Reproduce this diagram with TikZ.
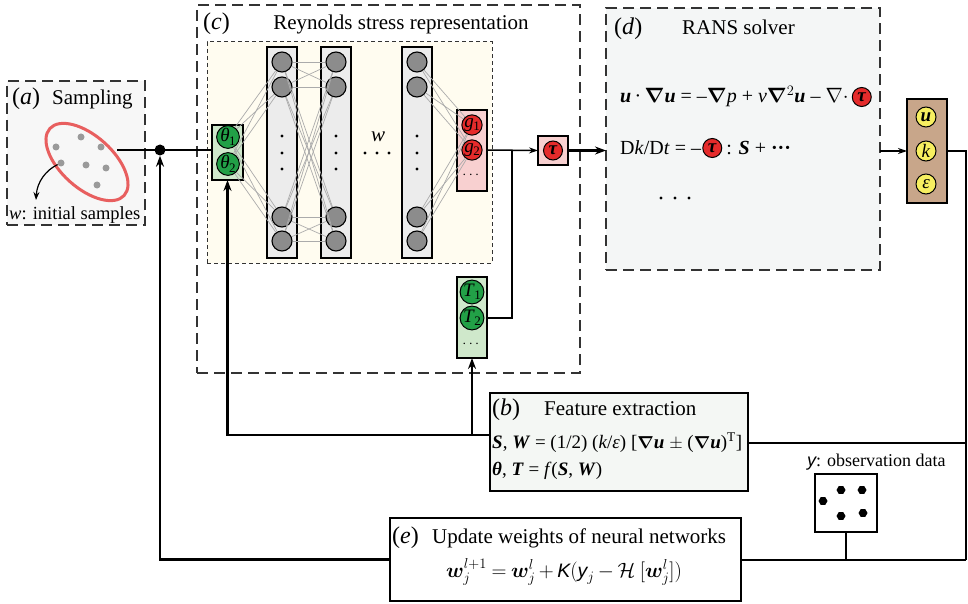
\documentclass[tikz,border=0pt]{standalone}
\usepackage{amsmath}
\usepackage{bm}
\usepackage{fontspec}
\setmainfont{Liberation Serif}
\newfontfamily\sansfam{Liberation Sans}
\newcommand{\vecu}{\textbf{\textit{u}}}
\newcommand{\bnab}{$\bm{\nabla}$}
\newcommand{\csub}[2]{\textit{#1}\kern-0.5pt\raisebox{-3.5pt}{\fontsize{13}{13}\selectfont #2}}
\usetikzlibrary{shapes.geometric,arrows.meta}
\definecolor{nngray}{HTML}{8C8C8C}
\definecolor{colgray}{HTML}{ECECEC}
\definecolor{cream}{HTML}{FFFCF0}
\definecolor{ngreen}{HTML}{22A047}
\definecolor{lgreen}{HTML}{CFE8CB}
\definecolor{nred}{HTML}{E52B2B}
\definecolor{lpink}{HTML}{F8D0D0}
\definecolor{boxtan}{HTML}{C8A68A}
\definecolor{nyellow}{HTML}{F7EF60}
\definecolor{ellred}{HTML}{E85F5F}
\definecolor{dotgray}{HTML}{9A9A9A}
\definecolor{boxa}{HTML}{F7F7F7}
\definecolor{boxd}{HTML}{F4F6F6}
\definecolor{boxb}{HTML}{F4F7F4}
\definecolor{wiregray}{HTML}{ABABAB}
\begin{document}
\begin{tikzpicture}[x=1pt,y=-1pt,
  thk/.style={line width=2.4pt},
  thn/.style={line width=1.5pt},
  tipb/.style={-{Stealth[length=11pt,width=8pt]}},
  tips/.style={-{Stealth[length=9pt,width=6pt]}},
  rbox/.style={rectangle, inner sep=0pt, outer sep=0pt},
  dbox/.style={rbox, draw=black!80, line width=1.6pt, dash pattern=on 11pt off 6pt},
  sbox/.style={rbox, draw=black, line width=1.3pt},
  colbox/.style={rbox, draw=black, line width=1.2pt, fill=colgray, minimum width=30pt, minimum height=211pt},
  nn/.style={circle, draw=black, line width=1.1pt, fill=nngray, minimum size=20pt, inner sep=0pt},
  cc/.style={circle, draw=black, line width=1pt, minimum size=19pt, inner sep=0pt, font=\fontsize{19}{19}\selectfont},
  gc/.style={cc, fill=ngreen},
  rc/.style={cc, fill=nred},
  yc/.style={cc, fill=nyellow, minimum size=20pt},
  wire/.style={draw=wiregray, line width=0.7pt},
  sdot/.style={circle, fill=dotgray, minimum size=7pt, inner sep=0pt},
  odot/.style={regular polygon, regular polygon sides=6, fill=black, minimum size=9pt, inner sep=0pt},
  ndot/.style={circle, fill=black, minimum size=3.2pt, inner sep=0pt},
  lbl/.style={inner sep=0pt, font=\fontsize{21}{25}\selectfont},
  plab/.style={inner sep=0pt, font=\fontsize{24}{28}\selectfont},
  eqf/.style={inner sep=0pt, font=\fontsize{19}{23}\selectfont},
  eqd/.style={inner sep=0pt, font=\fontsize{20}{24}\selectfont},
  eqe/.style={inner sep=0pt, font={\fontsize{19.5}{24}\selectfont\medmuskip=3mu\thickmuskip=4mu}},
  sml/.style={inner sep=0pt, font=\fontsize{18.5}{22}\selectfont}
]
\useasboundingbox (0,0) rectangle (968,604);

% ---------------- (a) Sampling
\node[dbox, fill=boxa, minimum width=138pt, minimum height=144pt] (abox) at (76,153) {};
\node[plab, anchor=base west] (la) at (12,105) {(\textit{a})};
\node[lbl, anchor=base west] (lsamp) at (52,105) {Sampling};
\node[ellipse, draw=ellred, line width=3pt, rotate=-42, minimum width=100pt, minimum height=52pt, inner sep=0pt] (ell) at (87,162) {};
\node[sdot] (p1) at (81,137) {};
\node[sdot] (p2) at (56,147) {};
\node[sdot] (p3) at (101,147) {};
\node[sdot] (p4) at (61,163) {};
\node[sdot] (p5) at (86,165) {};
\node[sdot] (p6) at (106,168) {};
\node[sdot] (p7) at (97,185) {};
\coordinate (wt) at (36,200);
\draw[line width=1.2pt, -{Stealth[length=8pt,width=6pt]}] (p4) .. controls (46,170) and (37,182) .. (wt);
\node[sml, anchor=base west] (winit) at (9,219) {\textit{w}: initial samples};

% ---------------- (c) Reynolds stress representation
\node[dbox, minimum width=383pt, minimum height=368pt] (cbox) at (388.5,189) {};
\node[plab, anchor=base west] (lc) at (203,30) {(\textit{c})};
\node[lbl, anchor=base] (lrey) at (401,30) {Reynolds stress representation};
\node[rbox, draw=black!80, line width=1pt, dash pattern=on 4pt off 3pt, fill=cream, minimum width=285pt, minimum height=221pt] (inner) at (349.5,152.5) {};

\node[sbox, fill=lgreen, minimum width=31pt, minimum height=55pt] (thbox) at (227.5,152.5) {};
\node[gc] (th1) at (228,137) {\csub{θ}{1}};
\node[gc] (th2) at (228,164) {\csub{θ}{2}};

\node[colbox] (col1) at (282,152.5) {};
\node[colbox] (col2) at (336,152.5) {};
\node[colbox] (col3) at (417,152.5) {};
\foreach \c/\x in {1/282,2/336,3/417}{
  \foreach \i/\y in {a/62,b/87,c/217,d/241}{
    \node[nn] (c\c\i) at (\x,\y) {};
  }
  \foreach \y [count=\k] in {136,153,169}{
    \node[ndot] (cd\c\k) at (\x,\y) {};
  }
}
\node[lbl, anchor=base] (wlab) at (378,142) {\textit{w}};
\node[ndot] (hd1) at (365,153) {};
\node[ndot] (hd2) at (377,153) {};
\node[ndot] (hd3) at (389,153) {};

\node[sbox, fill=lpink, minimum width=30pt, minimum height=81pt] (gbox) at (472,150.5) {};
\node[rc] (g1) at (472,125) {\csub{g}{1}};
\node[rc] (g2) at (472,150) {\csub{g}{2}};
\node[inner sep=0pt, font=\fontsize{15}{15}\selectfont] (gdots) at (472,175) {$\cdots$};

% wires
\foreach \a in {th1,th2}{
  \foreach \b in {a,b,c,d}{ \draw[wire] (\a) -- (c1\b); }
}
\foreach \a in {a,b,c,d}{
  \foreach \b in {a,b,c,d}{ \draw[wire] (c1\a) -- (c2\b); }
}
\foreach \a in {a,b,c,d}{
  \foreach \b in {g1,g2}{ \draw[wire] (c3\a) -- (\b); }
}

\node[sbox, fill=lpink, minimum width=30pt, minimum height=29pt] (taubox) at (553,150.5) {};
\node[rc] (tau) at (553,150.5) {\textbf{\textit{τ}}};

\node[sbox, fill=lgreen, minimum width=30pt, minimum height=81pt] (tbox) at (472,317.5) {};
\node[gc] (T1) at (472,292) {\csub{T}{1}};
\node[gc] (T2) at (472,318) {\csub{T}{2}};
\node[inner sep=0pt, font=\fontsize{15}{15}\selectfont] (tdots) at (472,344) {$\cdots$};

% ---------------- (d) RANS solver
\node[dbox, fill=boxd, minimum width=274pt, minimum height=262pt] (dbox) at (743,139) {};
\node[plab, anchor=base west] (ld) at (614,35) {(\textit{d})};
\node[lbl, anchor=base west] (lrans) at (682,35) {RANS solver};
\coordinate (r1) at (0,97);
\coordinate (r2) at (0,148);
\node[eqd, anchor=base west] (eq1) at (620,103) {\vecu\,·\,\bnab\vecu{} = –\bnab\textit{p} + \textit{ν}$\bm{\nabla}^{2}$\vecu{} – $\nabla\cdot$};
\node[rc, anchor=west, xshift=3pt] (tau1) at (eq1.east |- r1) {\textbf{\textit{τ}}};
\node[eqd, anchor=base west] (eq2) at (620,155) {D\textit{k}/D\textit{t} = –};
\node[rc, anchor=west, xshift=1pt] (tau2) at (eq2.east |- r2) {\textbf{\textit{τ}}};
\node[eqd, anchor=base west, xshift=4pt] (eq2b) at (tau2.east |- eq2.base) {: \textbf{\textit{S}} + \textbf{···}};
\node[ndot] (dd1) at (661,198) {};
\node[ndot] (dd2) at (675,198) {};
\node[ndot] (dd3) at (689,198) {};

% output variables
\node[rbox, draw=black, line width=1.2pt, fill=boxtan, minimum width=40pt, minimum height=104pt] (obox) at (927,151) {};
\node[yc] (ou) at (926,117) {\vecu};
\node[yc] (ok) at (926,151) {\textit{k}};
\node[yc] (oe) at (926,184) {\textit{ε}};

% ---------------- (b) Feature extraction
\node[sbox, fill=boxb, minimum width=258pt, minimum height=98pt] (bbox) at (619,442) {};
\node[plab, anchor=base west] (lb) at (492,415) {(\textit{b})};
\node[lbl, anchor=base west] (lfeat) at (544,415) {Feature extraction};
\node[eqf, anchor=base west] (beq1) at (492,448) {\textbf{\textit{S}}, \textbf{\textit{W}} = (1/2) (\textit{k}/\textit{ε}) [\bnab\vecu{} $\pm$ (\bnab\vecu)\textsuperscript{T}]};
\node[eqf, anchor=base west] (beq2) at (492,475) {\textbf{\textit{θ}}, \textbf{\textit{T}} = \textit{f}(\textbf{\textit{S}}, \textbf{\textit{W}})};

% ---------------- observation
\node[inner sep=0pt, font=\fontsize{18}{22}\selectfont, anchor=base west] (lobs) at (807,466) {{\sansfam\itshape y}: observation data};
\node[rbox, draw=black, line width=1.3pt, fill=white, minimum width=62pt, minimum height=58pt] (obs) at (846,503) {};
\node[odot] (o1) at (823,501) {};
\node[odot] (o2) at (841,490) {};
\node[odot] (o3) at (862,490) {};
\node[odot] (o4) at (841,516) {};
\node[odot] (o5) at (863,513) {};

% ---------------- (e) Update
\node[sbox, fill=white, minimum width=351pt, minimum height=83pt] (ebox) at (565.5,559.5) {};
\node[plab, anchor=base west] (le) at (392,543) {(\textit{e})};
\node[lbl, anchor=base west] (lupd) at (432,543) {Update weights of neural networks};
\node[eqe, anchor=base] (eeq) at (564,577) {$\bm{w}_j^{l+1} = \bm{w}_j^{l} + \text{\sansfam\itshape K}(\text{\sansfam\itshape y}_j - \mathcal{H}\;[\bm{w}_j^{l}])$};

% ---------------- connectors
\node[circle, fill=black, minimum size=11pt, inner sep=0pt] (jd) at (160,150) {};
\coordinate (ea) at (117,150);
\draw[thk] (ea) -- (jd.center);
\draw[thk] (jd.center) -- (jd -| thbox.west);
\draw[thk, tipb] (ebox.west) -| (jd.south);

\coordinate (bl) at (490,435);
\draw[thk, tipb] (bl) -| (thbox.south);
\draw[thk, tipb] (tbox.south |- bl) -- (tbox.south);

\coordinate (jn) at (512,150);
\draw[thn, tips] (gbox.east |- g2) -- (taubox.west);
\draw[thn] (T2 -| tbox.east) -| (jn);
\draw[thk, tipb] (taubox.east) -- (taubox.east -| dbox.west);

\draw[thn, tips] (dbox.east |- ok) -- (obox.west |- ok);
\coordinate (rt) at (966,151);
\coordinate (rb) at (966,560);
\coordinate (rm) at (966,443);
\draw[thn] (obox.east |- ok) -- (rt) -- (rb);
\draw[thk] (rb) -- (ebox.east |- rb);
\draw[thn] (rm) -- (rm -| bbox.east);
\draw[thn] (obs.south) -- (obs.south |- rb);
\end{tikzpicture}
\end{document}
